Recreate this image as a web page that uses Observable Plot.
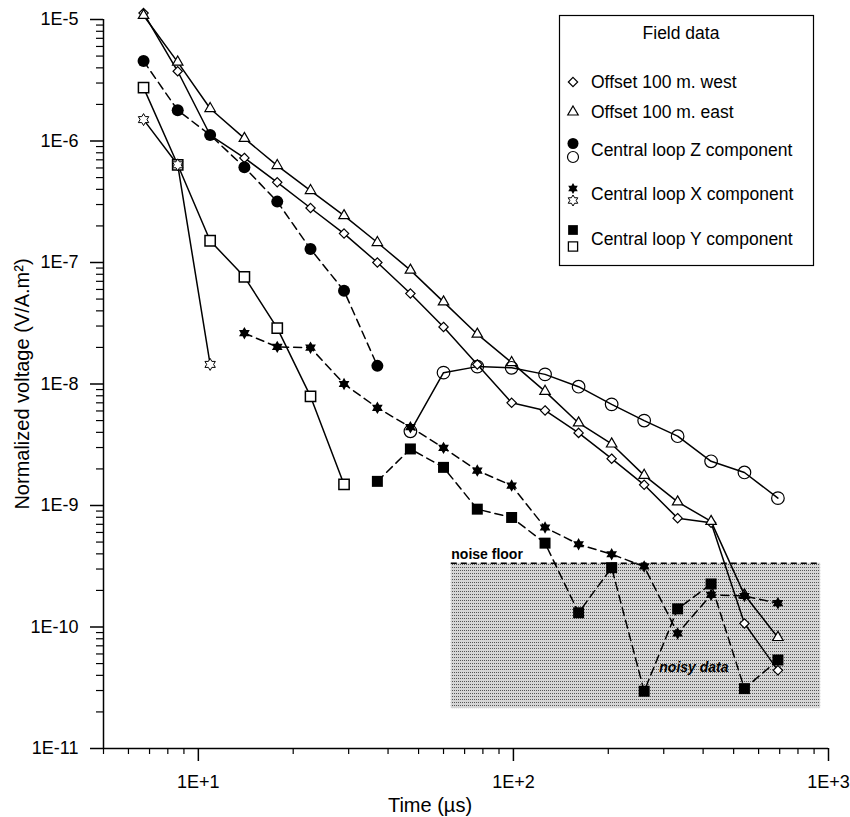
<!DOCTYPE html>
<html>
<head>
<meta charset="utf-8">
<script src="https://cdn.jsdelivr.net/npm/d3@7"></script>
<script src="https://cdn.jsdelivr.net/npm/@observablehq/plot@0.6"></script>
<style>
  html, body { margin: 0; padding: 0; background: #fff; }
  #chart svg { display: block; }
</style>
</head>
<body>
<div id="chart"></div>
<script>
// ---- data ----
const times = [6.7, 8.6, 10.9, 14, 17.8, 22.7, 29, 37, 47.1, 60, 76.8, 98.7, 126, 161, 205, 260, 332, 424, 541, 691];

const offsetWest = [1.13e-5, 3.75e-6, 1.12e-6, 7.26e-7, 4.57e-7, 2.81e-7, 1.73e-7, 1.0e-7, 5.55e-8, 2.95e-8,
  1.45e-8, 7.0e-9, 6.06e-9, 3.96e-9, 2.43e-9, 1.48e-9, 7.87e-10, 7.2e-10, 1.07e-10, 4.4e-11];
const offsetEast = [1.08e-5, 4.46e-6, 1.85e-6, 1.05e-6, 6.28e-7, 3.91e-7, 2.43e-7, 1.46e-7, 8.65e-8, 4.74e-8,
  2.57e-8, 1.50e-8, 8.7e-9, 4.78e-9, 3.21e-9, 1.77e-9, 1.07e-9, 7.4e-10, 1.84e-10, 8.2e-11];

const zEarlyTimes = times.slice(0, 8);
const zEarly = [4.55e-6, 1.79e-6, 1.12e-6, 6.08e-7, 3.17e-7, 1.29e-7, 5.85e-8, 1.41e-8];
const zLateTimes = times.slice(8);
const zLate = [4.08e-9, 1.24e-8, 1.39e-8, 1.36e-8, 1.20e-8, 9.5e-9, 6.8e-9, 5.0e-9, 3.72e-9, 2.31e-9, 1.87e-9, 1.15e-9];

const xEarlyTimes = times.slice(0, 3);
const xEarly = [1.50e-6, 6.37e-7, 1.45e-8];
const xLateTimes = times.slice(3);
const xLate = [2.62e-8, 2.02e-8, 1.99e-8, 1.0e-8, 6.37e-9, 4.41e-9, 2.98e-9, 1.94e-9, 1.46e-9, 6.59e-10,
  4.8e-10, 3.97e-10, 3.15e-10, 8.85e-11, 1.84e-10, 1.80e-10, 1.57e-10];

const yEarlyTimes = times.slice(0, 7);
const yEarly = [2.75e-6, 6.37e-7, 1.51e-7, 7.62e-8, 2.88e-8, 7.9e-9, 1.49e-9];
const yLateTimes = times.slice(7);
const yLate = [1.58e-9, 2.92e-9, 2.06e-9, 9.33e-10, 7.97e-10, 4.9e-10, 1.31e-10, 3.08e-10, 2.96e-11, 1.41e-10,
  2.26e-10, 3.11e-11, 5.35e-11];

const noiseFloor = 3.35e-10;
const noiseBottom = 2.13e-11;
const noiseStart = 63.5;
const noiseEnd = 944;
const noiseLabel = "noise floor";
const noisyLabel = "noisy data";
const noisyLabelAt = {x: 374, y: 4.6e-11};

const xMajorTicks = [10, 100, 1000];
const yMajorTicks = [1e-5, 1e-6, 1e-7, 1e-8, 1e-9, 1e-10, 1e-11];

const legendTitle = "Field data";
const legendLabels = ["Offset 100 m. west", "Offset 100 m. east", "Central loop Z component",
  "Central loop X component", "Central loop Y component"];
const xTitle = "Time (µs)";
const yTitle = "Normalized voltage (V/A.m²)";

// ---- build tables ----
const rows = (name, ts, vs) => ts.map((t, i) => ({series: name, t, v: vs[i]}));
const west = rows("west", times, offsetWest);
const east = rows("east", times, offsetEast);
const zE = rows("zE", zEarlyTimes, zEarly);
const zL = rows("zL", zLateTimes, zLate);
const xE = rows("xE", xEarlyTimes, xEarly);
const xL = rows("xL", xLateTimes, xLate);
const yE = rows("yE", yEarlyTimes, yEarly);
const yL = rows("yL", yLateTimes, yLate);

const solid = [...west, ...east, ...zL, ...xE, ...yE];
const dashed = [...zE, ...xL, ...yL];

const xMinor = [];
for (const d of [1, 10, 100]) for (let k = 2; k <= 9; k++) if (k * d >= 5) xMinor.push(k * d);
const yMinor = [];
for (let e = -11; e < -5; e++) for (let k = 2; k <= 9; k++) yMinor.push(k * Math.pow(10, e));

const fmt = d => { const e = Math.round(Math.log10(d)); return "1E" + (e > 0 ? "+" + e : e); };

// hexagram symbol
const hexagram = {
  draw(context, size) {
    const R = Math.sqrt(size / Math.PI);
    const r = R / Math.sqrt(3);
    for (let i = 0; i < 12; i++) {
      const a = -Math.PI / 2 + i * Math.PI / 6;
      const rad = i % 2 ? r : R;
      const px = rad * Math.cos(a), py = rad * Math.sin(a);
      if (i === 0) context.moveTo(px, py); else context.lineTo(px, py);
    }
    context.closePath();
  }
};

const FONT = "'Liberation Sans', Arial, sans-serif";

const chart = Plot.plot({
  width: 850,
  height: 817,
  marginLeft: 103,
  marginRight: 22,
  marginTop: 19,
  marginBottom: 69,
  style: {fontFamily: FONT, fontSize: "18px", color: "black", background: "white"},
  x: {type: "log", domain: [5, 1000], axis: null},
  y: {type: "log", domain: [1e-11, 1e-5], axis: null},
  marks: [
    Plot.rect([{}], {x1: noiseStart, x2: noiseEnd, y1: noiseBottom, y2: noiseFloor, fill: "url(#stipple)"}),
    Plot.ruleY([noiseFloor], {x1: noiseStart, x2: noiseEnd, stroke: "black", strokeWidth: 1.4, strokeDasharray: "6,4"}),
    Plot.text([noiseLabel], {x: noiseStart, y: noiseFloor, text: d => d, textAnchor: "start", dy: -9, fontSize: 14, fontWeight: "bold"}),
    Plot.text([noisyLabel], {x: noisyLabelAt.x, y: noisyLabelAt.y, text: d => d, fontSize: 14, fontWeight: "bold", fontStyle: "italic"}),

    Plot.line(solid, {x: "t", y: "v", z: "series", stroke: "black", strokeWidth: 1.5}),
    Plot.line(dashed, {x: "t", y: "v", z: "series", stroke: "black", strokeWidth: 1.5, strokeDasharray: "8,5"}),

    Plot.dot(west, {x: "t", y: "v", symbol: "diamond2", r: 4.2, stroke: "black", fill: "white", strokeWidth: 1.2}),
    Plot.dot(east, {x: "t", y: "v", symbol: "triangle2", r: 5, stroke: "black", fill: "white", strokeWidth: 1.2}),
    Plot.dot(zL, {x: "t", y: "v", symbol: "circle", r: 6.3, stroke: "black", fill: "none", strokeWidth: 1.2}),
    Plot.dot(yE, {x: "t", y: "v", symbol: "square", r: 5.8, stroke: "black", fill: "white", strokeWidth: 1.5}),
    Plot.dot(xE, {x: "t", y: "v", symbol: hexagram, r: 6, stroke: "black", fill: "white", strokeWidth: 1}),
    Plot.dot(zE, {x: "t", y: "v", symbol: "circle", r: 6, fill: "black", stroke: "none"}),
    Plot.dot(yL, {x: "t", y: "v", symbol: "square", r: 6.2, fill: "black", stroke: "none"}),
    Plot.dot(xL, {x: "t", y: "v", symbol: hexagram, r: 6.2, fill: "black", stroke: "none"}),

    Plot.ruleX([5], {stroke: "black", strokeWidth: 1.5}),
    Plot.ruleY([1e-11], {stroke: "black", strokeWidth: 1.5}),
    Plot.axisY(yMajorTicks, {tickSize: 13, tickPadding: 12, tickFormat: fmt, label: null, fontSize: 18, strokeWidth: 1.5}),
    Plot.axisY(yMinor, {tickSize: 7, tickFormat: () => "", label: null, strokeWidth: 1.2}),
    Plot.axisX(xMajorTicks, {tickSize: 13, tickPadding: 14, tickFormat: fmt, label: null, fontSize: 18, strokeWidth: 1.5}),
    Plot.axisX(xMinor, {tickSize: 6, tickFormat: () => "", label: null, strokeWidth: 1.2})
  ]
});

document.getElementById("chart").appendChild(chart);

const svg = d3.select(chart);
// stipple pattern for the noise region
const defs = svg.insert("defs", ":first-child");
const pat = defs.append("pattern").attr("id", "stipple").attr("patternUnits", "userSpaceOnUse")
  .attr("width", 2).attr("height", 3);
pat.append("rect").attr("width", 2).attr("height", 3).attr("fill", "#d6d6d6");
pat.append("rect").attr("width", 1).attr("height", 1).attr("fill", "#555");

// axis titles
svg.append("text").attr("x", 430).attr("y", 805).attr("text-anchor", "middle").attr("dominant-baseline", "central")
  .attr("font-family", FONT).attr("font-size", 20).attr("fill", "black").text(xTitle);
svg.append("text").attr("transform", "translate(22,384) rotate(-90)").attr("text-anchor", "middle")
  .attr("dominant-baseline", "central").attr("font-family", FONT).attr("font-size", 20).attr("fill", "black").text(yTitle);

// legend
const lg = svg.append("g").attr("font-family", FONT).attr("font-size", 17.5).attr("fill", "black");
lg.append("rect").attr("x", 559.5).attr("y", 15.5).attr("width", 254).attr("height", 250)
  .attr("fill", "white").attr("stroke", "black").attr("stroke-width", 1.2);
lg.append("text").attr("x", 681).attr("y", 33).attr("text-anchor", "middle").attr("dominant-baseline", "central").text(legendTitle);
const textY = [82, 112, 150, 194, 239];
legendLabels.forEach((s, i) => {
  lg.append("text").attr("x", 591).attr("y", textY[i]).attr("text-anchor", "start")
    .attr("dominant-baseline", "central").text(s);
});
const sym = (type, r) => d3.symbol(type, Math.PI * r * r)();
const sx = 573;
const addSym = (type, r, y, fill, stroke, sw) => lg.append("path").attr("d", sym(type, r))
  .attr("transform", `translate(${sx},${y})`).attr("fill", fill).attr("stroke", stroke).attr("stroke-width", sw);
addSym(d3.symbolDiamond2, 4.2, 82, "white", "black", 1.2);
addSym(d3.symbolTriangle2, 5, 112, "white", "black", 1.2);
addSym(d3.symbolCircle, 5.5, 143.5, "black", "none", 0);
addSym(d3.symbolCircle, 5.5, 157, "white", "black", 1.2);
addSym(hexagram, 5.5, 188.5, "black", "none", 0);
addSym(hexagram, 5.5, 200.5, "white", "black", 1);
addSym(d3.symbolSquare, 5.5, 230, "black", "none", 0);
addSym(d3.symbolSquare, 5.2, 246.5, "white", "black", 1.3);
</script>
</body>
</html>
